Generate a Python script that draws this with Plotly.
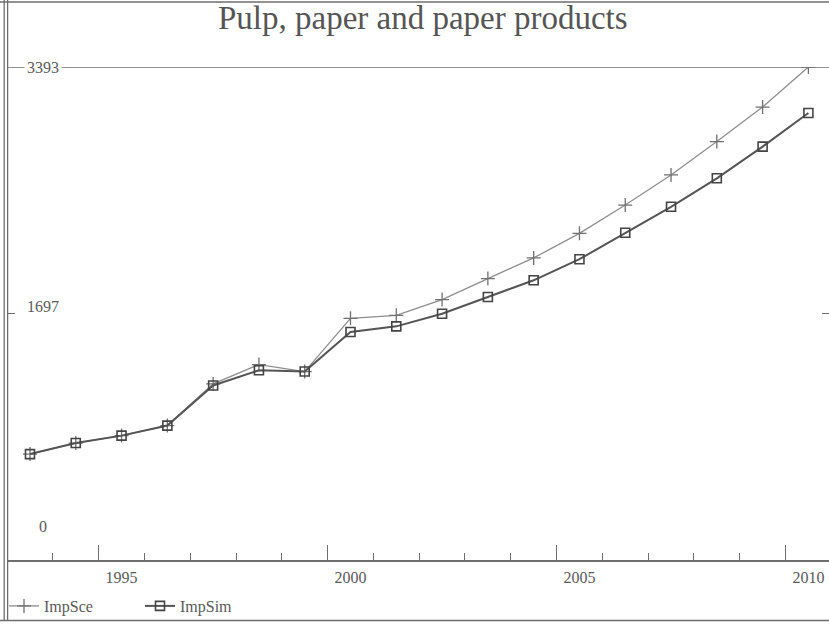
import plotly.graph_objects as go

years = list(range(1993, 2011))
imp_sce = [729, 805, 856, 925, 1212, 1345, 1297, 1663, 1684, 1792, 1937, 2079,
           2248, 2443, 2650, 2880, 3117, 3393]
imp_sim = [729, 805, 856, 925, 1201, 1306, 1297, 1569, 1608, 1695, 1810, 1925,
           2070, 2252, 2431, 2627, 2845, 3076]
x_label_vals = [1995, 2000, 2005, 2010]
x_label_text = ["1995", "2000", "2005", "2010"]
x_major_ticks = [1994.5, 1999.5, 2004.5, 2009.5]
y_tick_vals = [0, 1697, 3393]
y_tick_text = ["0", "1697", "3393"]
title_text = "Pulp, paper and paper products"

W, H = 829, 624
ML, MR, MT, MB = 8, 0, 67, 64
PW, PH = W - ML - MR, H - MT - MB

def px_x(px):
    return (px - ML) / PW

def px_y(py):
    return (H - MB - py) / PH

FRAME = "#6e6e6e"
TXT = "#5a5a5a"
FONT = "Liberation Serif"

fig = go.Figure()
fig.add_trace(go.Scatter(
    x=years, y=imp_sce, name="ImpSce", mode="lines+markers",
    line=dict(color="#8e8e8e", width=1.3),
    marker=dict(symbol="cross-thin", size=10, line=dict(color="#707070", width=1.3)),
    xaxis="x", yaxis="y"))
fig.add_trace(go.Scatter(
    x=years, y=imp_sim, name="ImpSim", mode="lines+markers",
    line=dict(color="#555555", width=2),
    marker=dict(symbol="square-open", size=9, color="#444444", line=dict(width=1.6)),
    xaxis="x", yaxis="y"))

xr = [1992.52, 2010.45]
fig.update_layout(
    width=W, height=H,
    margin=dict(l=ML, r=MR, t=MT, b=MB),
    paper_bgcolor="white", plot_bgcolor="white",
    font=dict(family=FONT, color=TXT, size=16),
    title=dict(text=title_text, x=0.51, xanchor="center", y=1 - 17 / H, yanchor="middle",
               font=dict(family=FONT, size=33, color="#555555")),
    xaxis=dict(range=xr, showgrid=False, zeroline=False,
               showline=True, linecolor=FRAME, linewidth=1.5,
               tickmode="array", tickvals=x_major_ticks, showticklabels=False,
               ticks="inside", ticklen=15, tickwidth=1.2, tickcolor=FRAME,
               minor=dict(tick0=1993.5, dtick=1, ticks="inside", ticklen=7,
                          tickwidth=1.2, tickcolor=FRAME, showgrid=False)),
    xaxis2=dict(range=xr, overlaying="x", anchor="y", side="bottom",
                showgrid=False, zeroline=False, showline=False,
                tickmode="array", tickvals=x_label_vals, ticktext=x_label_text,
                ticks="", ticklabelstandoff=6,
                tickfont=dict(family=FONT, size=16, color=TXT)),
    yaxis=dict(range=[0, 3393], showgrid=False, zeroline=False, showline=False,
               tickmode="array", tickvals=[y_tick_vals[1]], showticklabels=False,
               ticks="inside", ticklen=7, tickwidth=1.2, tickcolor=FRAME, mirror="ticks"),
    showlegend=True,
    legend=dict(orientation="h", x=px_x(4), xanchor="left", y=px_y(606), yanchor="middle",
                entrywidth=91, entrywidthmode="pixels", itemwidth=30,
                font=dict(family=FONT, size=16, color=TXT), bgcolor="rgba(0,0,0,0)",
                tracegroupgap=0),
)

# dummy trace on xaxis2 so the label axis renders
fig.add_trace(go.Scatter(x=[years[0]], y=[imp_sim[0]], xaxis="x2", yaxis="y",
                         mode="markers", marker=dict(opacity=0), showlegend=False,
                         hoverinfo="skip"))

shapes = []
# left double frame line
for px in (4.2, 7.6):
    shapes.append(dict(type="line", xref="paper", yref="paper",
                       x0=px_x(px), x1=px_x(px), y0=px_y(0), y1=px_y(621),
                       line=dict(color=FRAME, width=1.3)))
# top and bottom border lines
shapes.append(dict(type="line", xref="paper", yref="paper",
                   x0=px_x(0), x1=px_x(W), y0=px_y(2), y1=px_y(2),
                   line=dict(color=FRAME, width=1.3)))
shapes.append(dict(type="line", xref="paper", yref="paper",
                   x0=px_x(0), x1=px_x(W), y0=px_y(620.5), y1=px_y(620.5),
                   line=dict(color=FRAME, width=1.5)))
# top value line at max
shapes.append(dict(type="line", xref="paper", yref="y",
                   x0=0, x1=1, y0=y_tick_vals[2], y1=y_tick_vals[2],
                   line=dict(color=FRAME, width=1.3)))
fig.update_layout(shapes=shapes)

yshifts = [34, 7, 0]
for v, t, s in zip(y_tick_vals, y_tick_text, yshifts):
    fig.add_annotation(x=0, xref="paper", y=v, yref="y", text=t, showarrow=False,
                       xanchor="center", yanchor="middle", xshift=35, yshift=s,
                       font=dict(family=FONT, size=16, color=TXT),
                       bgcolor="white" if v == y_tick_vals[2] else None, borderpad=2)

fig.write_html("out.html", config={"displayModeBar": False},
               post_script="document.body.style.margin='0';document.body.style.overflow='hidden';")
